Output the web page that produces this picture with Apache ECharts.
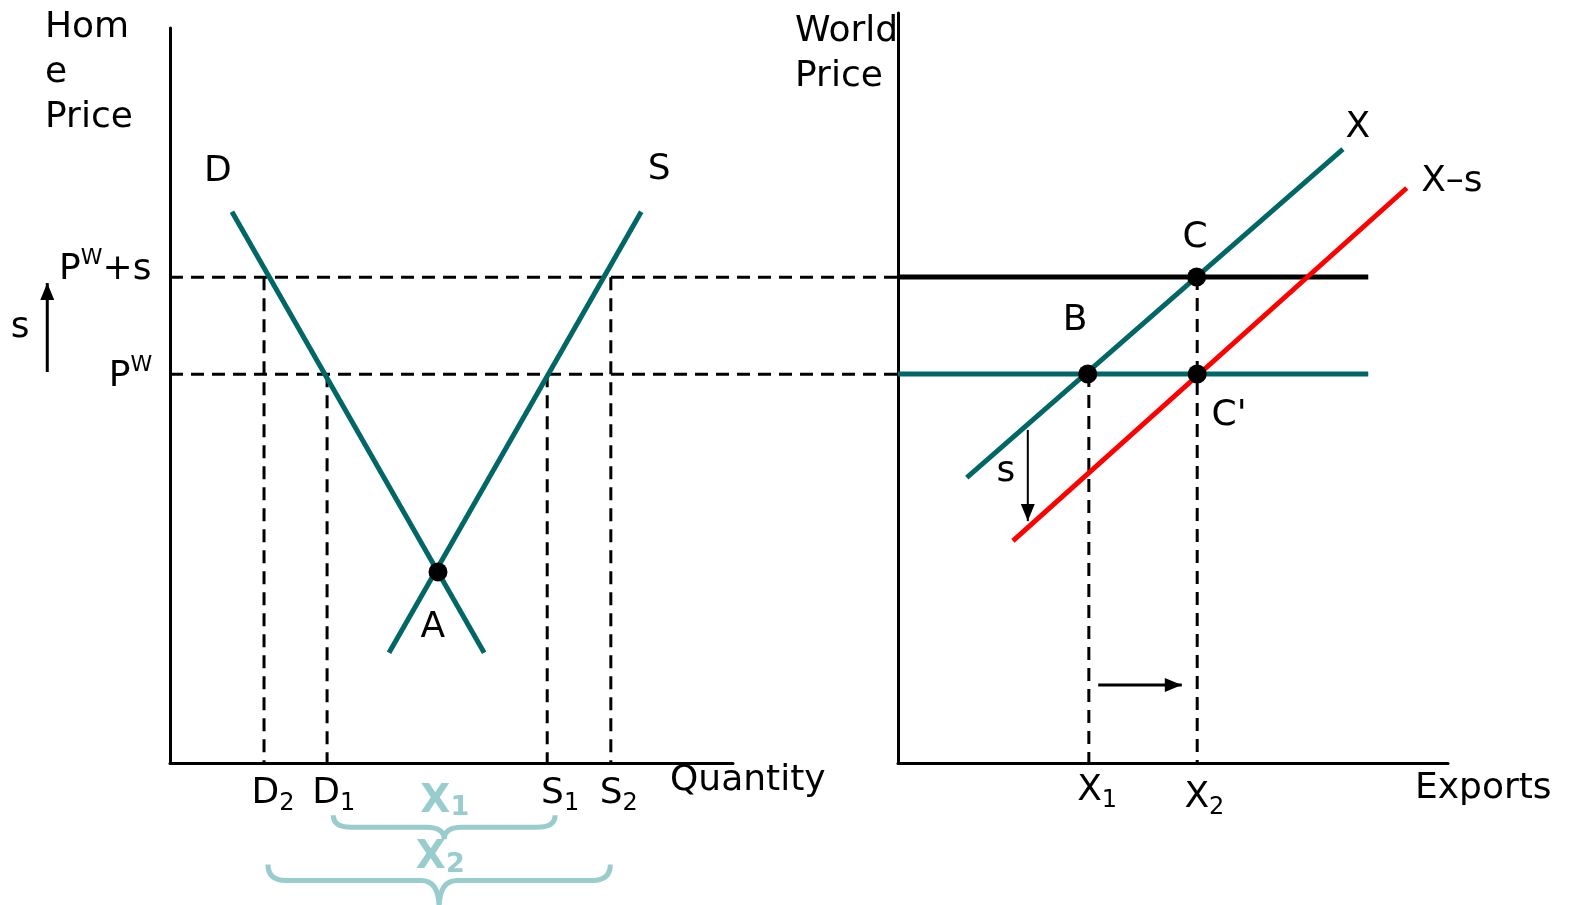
<!DOCTYPE html>
<html>
<head>
<meta charset="utf-8">
<script src="https://cdn.jsdelivr.net/npm/echarts@6/dist/echarts.min.js"></script>
<style>
  html, body { margin: 0; padding: 0; background: #fff; }
  #main { width: 1573px; height: 905px; }
</style>
</head>
<body>
<div id="main"></div>
<script>
// ---- data (home market, left panel) ----
var homeDemand = [[1.10, 7.50], [5.58, 1.50]];
var homeSupply = [[3.89, 1.50], [8.37, 7.50]];
var autarky = [[4.76, 2.60]];
var worldPrice = 5.29;
var subsidyPrice = 6.61;
var subsidy = subsidyPrice - worldPrice;
var qNames = ['D2', 'D1', 'S1', 'S2'];
var qValues = [1.67, 2.79, 6.70, 7.83];
var qPrices = [subsidyPrice, worldPrice, worldPrice, subsidyPrice];
var bracketX1 = [2.90, 6.84];
var bracketX2 = [1.74, 7.82];

// ---- data (world market, right panel) ----
var exportSupply = [[1.25, 3.88], [8.09, 8.35]];
var exportSupplySub = [[2.09, 3.02], [9.25, 7.82]];
var priceLineEnd = 8.55;
var pointB = [3.45, 5.29];
var pointC = [5.43, 6.61];
var pointC2 = [5.44, 5.29];
var exportX1 = 3.47;
var exportX2 = 5.44;

var teal = '#006666';
var red = '#ff0000';
var light = '#99cccc';
var font = 'DejaVu Sans';

var rich = {
    b: {fontSize: 36, lineHeight: 40, verticalAlign: 'top', fontFamily: font, color: '#000'},
    sub: {fontSize: 24, lineHeight: 12, verticalAlign: 'bottom', fontFamily: font, color: '#000'},
    p: {fontSize: 36, lineHeight: 40, verticalAlign: 'bottom', fontFamily: font, color: '#000'},
    sup: {fontSize: 22, lineHeight: 24, verticalAlign: 'top', fontFamily: font, color: '#000'},
    tb: {fontSize: 39, lineHeight: 40, verticalAlign: 'top', fontFamily: font, fontWeight: 'bold', color: light},
    tsub: {fontSize: 27, lineHeight: 12, verticalAlign: 'bottom', fontFamily: font, fontWeight: 'bold', color: light}
};

function seg(name, data, xi, color, width) {
    return {
        name: name, type: 'line', xAxisIndex: xi, yAxisIndex: xi,
        data: data, symbol: 'none', silent: true,
        lineStyle: {color: color, width: width}, z: 3
    };
}

// free segments [x1, y1, x2, y2], drawn through the axes, not clipped to the grid
function guides(xi, list, color, width, dash, head) {
    return {
        type: 'custom', xAxisIndex: xi, yAxisIndex: xi, clip: false, silent: true, z: 2,
        data: list,
        encode: {x: [0, 2], y: [1, 3]},
        renderItem: function (params, api) {
            var a = api.coord([api.value(0), api.value(1)]);
            var b = api.coord([api.value(2), api.value(3)]);
            var children = [{
                type: 'line',
                shape: {x1: a[0], y1: a[1], x2: b[0], y2: b[1]},
                style: {stroke: color, lineWidth: width, lineDash: dash || null}
            }];
            if (head) {
                var dx = b[0] - a[0], dy = b[1] - a[1];
                var len = Math.sqrt(dx * dx + dy * dy);
                var ux = dx / len, uy = dy / len;
                var bx = b[0] - ux * 17, by = b[1] - uy * 17;
                children.push({
                    type: 'polygon',
                    shape: {points: [[b[0], b[1]], [bx - uy * 7, by + ux * 7], [bx + uy * 7, by - ux * 7]]},
                    style: {fill: color}
                });
            }
            return {type: 'group', children: children};
        }
    };
}

function labels(xi, items) {
    return {
        type: 'scatter', xAxisIndex: xi, yAxisIndex: xi, clip: false, silent: true,
        symbolSize: 0, z: 10, itemStyle: {opacity: 1, color: '#000'},
        data: items.map(function (it) {
            return {value: [it[0], it[1]], label: {formatter: it[2]}};
        }),
        label: {
            show: true, position: 'inside', fontFamily: font, fontSize: 36,
            color: '#000', textBorderWidth: 0, opacity: 1, rich: rich
        }
    };
}

function dots(xi, data) {
    return {
        type: 'scatter', xAxisIndex: xi, yAxisIndex: xi, data: data,
        symbolSize: 19, itemStyle: {color: '#000', opacity: 1}, z: 5, silent: true
    };
}

var series = [];

// left: home market
series.push(guides(0, [
    [0, subsidyPrice, 12.93, subsidyPrice],
    [0, worldPrice, 12.93, worldPrice]
].concat(qValues.map(function (q, i) {
    return [q, qPrices[i], q, 0];
})), '#000', 3, [13, 8]));
series.push(seg('D', homeDemand, 0, teal, 5));
series.push(seg('S', homeSupply, 0, teal, 5));
series.push(dots(0, autarky));
series.push(guides(0, [[-2.18, worldPrice + 0.03, -2.18, worldPrice + subsidy - 0.08]], '#000', 3, null, true));

// brackets under the quantity axis
series.push({
    type: 'custom', xAxisIndex: 0, yAxisIndex: 0, clip: false, silent: true, z: 4,
    data: [[bracketX1[0], bracketX1[1], -0.71], [bracketX2[0], bracketX2[1], -1.38]],
    encode: {x: [0, 1], y: 2},
    renderItem: function (params, api) {
        var a = api.coord([api.value(0), api.value(2)]);
        var b = api.coord([api.value(1), api.value(2)]);
        var d = params.dataIndex === 0 ? 12 : 16;
        var t = params.dataIndex === 0 ? 12 : 28;
        var r = 18;
        var m = (a[0] + b[0]) / 2;
        var y0 = a[1], y1 = a[1] + d;
        var p = 'M' + a[0] + ',' + y0 +
            ' Q' + a[0] + ',' + y1 + ' ' + (a[0] + r) + ',' + y1 +
            ' L' + (m - r) + ',' + y1 +
            ' Q' + m + ',' + y1 + ' ' + m + ',' + (y1 + t) +
            ' Q' + m + ',' + y1 + ' ' + (m + r) + ',' + y1 +
            ' L' + (b[0] - r) + ',' + y1 +
            ' Q' + b[0] + ',' + y1 + ' ' + b[0] + ',' + y0;
        return {
            type: 'path', shape: {pathData: p},
            style: {fill: 'none', stroke: light, lineWidth: 5}
        };
    }
});

series.push(labels(0, [
    [0.85, 8.04, 'D'],
    [8.69, 8.07, 'S'],
    [4.67, 1.84, 'A'],
    [-2.66, 5.93, 's'],
    [-1.15, 6.74, '{p|P}{sup|W}{p|+s}'],
    [-0.70, 5.29, '{p|P}{sup|W}'],
    [1.83, -0.44, '{b|D}{sub|2}'],
    [2.91, -0.44, '{b|D}{sub|1}'],
    [6.93, -0.44, '{b|S}{sub|1}'],
    [7.97, -0.44, '{b|S}{sub|2}'],
    [4.88, -0.53, '{tb|X}{tsub|1}'],
    [4.80, -1.30, '{tb|X}{tsub|2}']
]));

// right: world export market
series.push(seg('PWs line', [[0, subsidyPrice], [priceLineEnd, subsidyPrice]], 1, '#000', 5));
series.push(seg('PW line', [[0, worldPrice], [priceLineEnd, worldPrice]], 1, teal, 5));
series.push(guides(1, [
    [exportX1, worldPrice, exportX1, 0],
    [exportX2, subsidyPrice, exportX2, 0]
], '#000', 3, [13, 8]));
series.push(seg('X', exportSupply, 1, teal, 5));
series.push(seg('X-s', exportSupplySub, 1, red, 5));
series.push(dots(1, [pointB, pointC, pointC2]));
series.push(guides(1, [[2.36, 4.53, 2.36, 4.53 - subsidy + 0.08]], '#000', 2, null, true));
series.push(guides(1, [[exportX1 + 0.17, 1.06, exportX2 - 0.28, 1.06]], '#000', 3, null, true));

series.push(labels(1, [
    [8.36, 8.64, 'X'],
    [10.07, 7.90, 'X\u2013s'],
    [5.40, 7.14, 'C'],
    [3.22, 6.02, 'B'],
    [6.02, 4.72, "C'"],
    [1.96, 3.96, 's'],
    [3.62, -0.40, '{b|X}{sub|1}'],
    [5.57, -0.50, '{b|X}{sub|2}']
]));

var axisLine = {show: true, onZero: false, lineStyle: {color: '#000', width: 3}};
function axis(max) {
    return {
        type: 'value', min: 0, max: max,
        axisLine: axisLine, axisTick: {show: false},
        axisLabel: {show: false}, splitLine: {show: false}
    };
}

var option = {
    animation: false,
    backgroundColor: '#fff',
    grid: [
        {left: 170, top: 28, width: 563, height: 735},
        {left: 898, top: 13, width: 550, height: 750}
    ],
    xAxis: [
        Object.assign(axis(10), {gridIndex: 0}),
        Object.assign(axis(10), {gridIndex: 1})
    ],
    yAxis: [
        Object.assign(axis(10), {gridIndex: 0}),
        Object.assign(axis(10.2), {gridIndex: 1})
    ],
    graphic: [
        {type: 'text', left: 45, top: 5, style: {text: 'Hom\ne\nPrice', font: '36px "DejaVu Sans"', lineHeight: 45, fill: '#000'}},
        {type: 'text', left: 795, top: 9, style: {text: 'World\nPrice', font: '36px "DejaVu Sans"', lineHeight: 45, fill: '#000'}},
        {type: 'text', left: 670, top: 761, style: {text: 'Quantity', font: '36px "DejaVu Sans"', lineHeight: 40, fill: '#000'}},
        {type: 'text', left: 1415, top: 769, style: {text: 'Exports', font: '36px "DejaVu Sans"', lineHeight: 40, fill: '#000'}}
    ],
    series: series
};

var chart = echarts.init(document.getElementById('main'));
chart.setOption(option);
window.addEventListener('resize', function () {
    chart.resize();
});
</script>
</body>
</html>
